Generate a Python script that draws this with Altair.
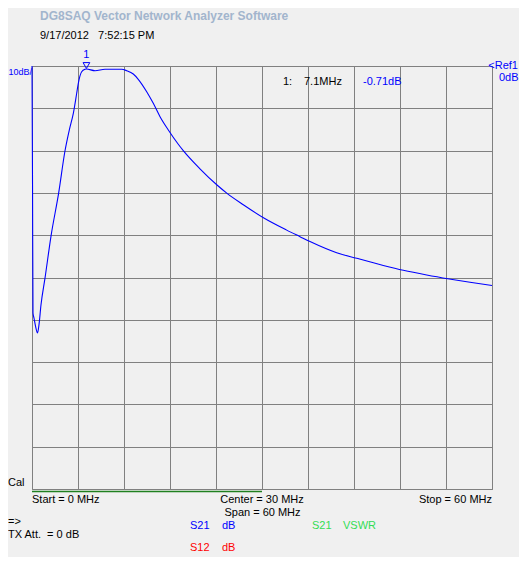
import altair as alt
import pandas as pd

# S21 trace (MHz, dB)
freq_mhz = [0.0, 0.07, 0.13, 0.26, 0.46, 0.72, 0.91, 1.17, 1.70, 2.48, 3.48, 4.30, 4.87,
            5.39, 5.83, 6.04, 6.48, 6.91, 7.10, 8.22, 9.52, 11.70, 12.35, 13.21, 13.86,
            14.96, 15.82, 16.70, 17.78, 19.08, 19.73, 21.91, 24.17, 25.40, 27.56, 30.30,
            33.22, 34.96, 36.26, 39.74, 42.35, 45.82, 48.43, 51.48, 54.43, 57.13, 60.0]
s21_db = [0.0, -28.1, -58.4, -59.6, -61.5, -63.1, -61.2, -56.5, -50.1, -40.2, -30.0, -20.1, -15.1,
          -11.2, -6.45, -4.09, -1.35, -0.78, -0.71, -1.11, -0.78, -0.78, -1.11, -1.89, -3.14,
          -6.08, -8.82, -11.99, -15.13, -18.5, -20.0, -24.3, -28.2, -30.05, -32.8, -36.0,
          -38.8, -40.35, -41.5, -44.14, -45.46, -47.15, -48.3, -49.41, -50.35, -51.13, -51.9]

marker_freq = [7.1]
marker_db = [-0.71]
marker_label = ["1"]

x_ticks = [0, 6, 12, 18, 24, 30, 36, 42, 48, 54, 60]
y_ticks = [-100, -90, -80, -70, -60, -50, -40, -30, -20, -10, 0]

sweep_start = [0]
sweep_now = [30]

# annotation texts: (text, x px, y px, color, align, size, weight)
NB = "\u00a0"
texts = [
    ("DG8SAQ Vector Network Analyzer Software", 8, -50, "#a2b5cd", "left", 12, "bold"),
    ("9/17/2012" + NB * 3 + "7:52:15 PM", 8, -30, "#000000", "left", 11, "normal"),
    ("10dB/", -23.5, 6, "#0000ff", "left", 9, "normal"),
    ("<Ref1", 486, 0, "#0000ff", "right", 11, "normal"),
    ("0dB", 467, 12, "#0000ff", "left", 11, "normal"),
    ("1:", 251, 15.5, "#000000", "left", 11, "normal"),
    ("7.1MHz", 272, 15.5, "#000000", "left", 11, "normal"),
    ("-0.71dB", 331, 15.5, "#0000ff", "left", 11, "normal"),
    ("Cal", -24, 417, "#000000", "left", 11, "normal"),
    ("Start = 0 MHz", 0, 434, "#000000", "left", 11, "normal"),
    ("Center = 30 MHz", 230, 434, "#000000", "center", 11, "normal"),
    ("Stop = 60 MHz", 460, 434, "#000000", "right", 11, "normal"),
    ("Span = 60 MHz", 230.5, 447, "#000000", "center", 11, "normal"),
    ("=>", -24, 456, "#000000", "left", 11, "normal"),
    ("TX Att." + NB * 2 + "= 0 dB", -24, 469, "#000000", "left", 11, "normal"),
    ("S21", 158, 460, "#0000ff", "left", 11, "normal"),
    ("dB", 190, 460, "#0000ff", "left", 11, "normal"),
    ("S21", 280, 460, "#33dd55", "left", 11, "normal"),
    ("VSWR", 311, 460, "#33dd55", "left", 11, "normal"),
    ("S12", 158, 482, "#ff0000", "left", 11, "normal"),
    ("dB", 190, 482, "#ff0000", "left", 11, "normal"),
]

FONT = "Liberation Sans"
GRID = "#808080"

curve = pd.DataFrame({"f": freq_mhz, "db": s21_db})
mk = pd.DataFrame({"f": marker_freq, "db": marker_db, "lab": marker_label})
sweep = pd.DataFrame({"f": sweep_start, "f2": sweep_now})

x_scale = alt.Scale(domain=[0, 60], nice=False, zero=False)
y_scale = alt.Scale(domain=[-100, 0], nice=False, zero=False)

x_axis = alt.Axis(values=x_ticks, grid=True, labels=False, ticks=False, domain=False,
                  title=None, gridColor=GRID, gridOpacity=1, gridWidth=1)
y_axis = alt.Axis(values=y_ticks, grid=True, labels=False, ticks=False, domain=False,
                  title=None, gridColor=GRID, gridOpacity=1, gridWidth=1)

line = alt.Chart(curve).mark_line(color="#0000ff", strokeWidth=1.1,
                                  interpolate="monotone").encode(
    x=alt.X("f:Q", scale=x_scale, axis=x_axis),
    y=alt.Y("db:Q", scale=y_scale, axis=y_axis),
)

tri = alt.Chart(mk).mark_point(shape="triangle-down", filled=False, color="#0000ff",
                               size=45, strokeWidth=1, opacity=1).encode(
    x=alt.X("f:Q", scale=x_scale),
    y=alt.value(-0.5),
)

tri_lab = alt.Chart(mk).mark_text(color="#0000ff", font=FONT, fontSize=11,
                                  baseline="middle", align="center").encode(
    x=alt.X("f:Q", scale=x_scale),
    y=alt.value(-11),
    text="lab:N",
)

sweep_line = alt.Chart(sweep).mark_rule(color="#208020", strokeWidth=1.5).encode(
    x=alt.X("f:Q", scale=x_scale),
    x2="f2:Q",
    y=alt.value(425.5),
)

layers = [line, sweep_line, tri, tri_lab]
for t, px, py, col, al, fs, fw in texts:
    layers.append(
        alt.Chart(alt.Data(values=[{}])).mark_text(
            font=FONT, fontSize=fs, fontWeight=fw, color=col, align=al, baseline="middle"
        ).encode(x=alt.value(px), y=alt.value(py), text=alt.value(t))
    )

chart = alt.layer(*layers).properties(
    width=460,
    height=423,
    background="#f0f0f0",
    padding={"left": 24, "top": 58, "right": 27, "bottom": 68},
    autosize=alt.AutoSizeParams(type="none"),
).configure_view(stroke=GRID, strokeWidth=1, fill="#f0f0f0")

chart.save("out.html", embed_options={"renderer": "svg", "actions": False})
